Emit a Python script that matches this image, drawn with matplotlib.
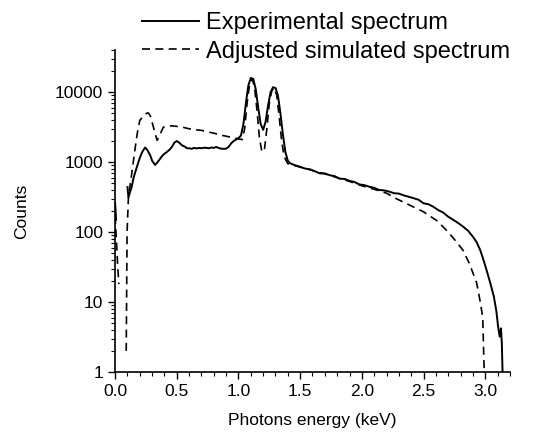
import numpy as np
import matplotlib
matplotlib.use("Agg")
import matplotlib.pyplot as plt
from matplotlib.ticker import LogLocator, FixedLocator, MultipleLocator, NullFormatter

nan = np.nan

# Experimental spectrum (solid)
exp_energy = [0.000, 0.008, nan,
              0.100, 0.108, 0.12, 0.135, 0.15, 0.176, 0.20, 0.22, 0.243, 0.26, 0.284, 0.30,
              0.324, 0.34, 0.365, 0.38, 0.40, 0.42, 0.44, 0.46, 0.48, 0.50, 0.52, 0.54,
              0.57, 0.58, 0.60, 0.62, 0.64, 0.66, 0.68, 0.70, 0.72, 0.74, 0.76, 0.78,
              0.80, 0.82, 0.84, 0.86, 0.88, 0.90, 0.92, 0.94, 0.96, 0.98, 1.00, 1.02,
              1.04, 1.06, 1.08, 1.10, 1.12, 1.14, 1.16, 1.18, 1.20, 1.22, 1.24, 1.26,
              1.28, 1.30, 1.32, 1.34, 1.36, 1.38, 1.40, 1.42, 1.44, 1.46, 1.48, 1.50,
              1.54, 1.58, 1.62, 1.66, 1.70, 1.74, 1.78, 1.82, 1.86, 1.90, 1.94, 1.98,
              2.02, 2.06, 2.10, 2.14, 2.18, 2.22, 2.26, 2.30, 2.34, 2.38, 2.42, 2.46,
              2.50, 2.54, 2.58, 2.62, 2.66, 2.70, 2.74, 2.78, 2.82, 2.86, 2.90, 2.93,
              2.96, 2.99, 3.01, 3.04, 3.07, 3.09, 3.105, 3.117, 3.128, 3.135, 3.142]
exp_counts = [260, 150, nan,
              440, 315, 370, 445, 600, 850, 1150, 1400, 1620, 1500, 1260, 1050,
              910, 980, 1120, 1220, 1320, 1400, 1500, 1650, 1900, 2000, 1900, 1750,
              1650, 1580, 1580, 1550, 1600, 1570, 1600, 1580, 1610, 1600, 1580, 1620,
              1600, 1650, 1590, 1560, 1550, 1560, 1650, 1850, 2000, 2100, 2200, 2400,
              3500, 7000, 12500, 16000, 15500, 11000, 6000, 3500, 2900, 3800, 6500, 10000,
              11800, 11500, 9000, 5000, 2500, 1400, 1050, 960, 930, 900, 880, 855,
              810, 790, 740, 690, 690, 650, 630, 580, 575, 540, 520, 480,
              470, 445, 430, 400, 395, 380, 360, 355, 335, 320, 305, 290,
              258, 250, 230, 206, 190, 166, 150, 135, 120, 105, 86, 72,
              55, 38, 29, 19, 12, 7.5, 4.4, 3.2, 4.2, 2.5, 0.8]

# Adjusted simulated spectrum (dashed)
sim_energy = [0.000, 0.010, 0.020, 0.030, nan,
              0.090, 0.097, 0.108, 0.135, 0.16, 0.18, 0.20, 0.23, 0.255, 0.27, 0.285,
              0.31, 0.34, 0.36, 0.39, 0.42, 0.46, 0.50, 0.55, 0.60,
              0.65, 0.70, 0.75, 0.80, 0.85, 0.90, 0.95, 1.00, 1.03, 1.05, 1.07, 1.09,
              1.11, 1.13, 1.15, 1.17, 1.19, 1.21, 1.23, 1.25, 1.27, 1.29, 1.31, 1.33,
              1.35, 1.37, 1.40, 1.45, 1.50, 1.60, 1.70, 1.80, 1.90, 2.00, 2.10, 2.20,
              2.28, 2.39, 2.50, 2.61, 2.70, 2.76, 2.82, 2.87, 2.93, 2.96, 2.98, 2.99,
              2.995]
sim_counts = [170, 80, 35, 18, nan,
              2.0, 100, 315, 690, 1480, 2600, 3950, 4600, 5000, 5050, 4600,
              3200, 2050, 2400, 3150, 3300, 3300, 3250, 3150, 3000,
              2900, 2850, 2700, 2600, 2450, 2350, 2250, 2150, 2100, 3000, 7000, 13000,
              15500, 12000, 5500, 2200, 1400, 1500, 3000, 7000, 10500, 11500, 9000, 4500,
              2000, 1200, 950, 900, 850, 760, 680, 600, 530, 460, 410, 360,
              300, 242, 195, 145, 100, 75, 55, 36, 19, 10, 6, 1.3,
              0.8]

plt.rcParams['font.family'] = ['Liberation Sans', 'DejaVu Sans']

fig = plt.figure(figsize=(5.43, 4.32), dpi=100)
ax = fig.add_axes([0.212, 0.139, 0.727, 0.745])

l1, = ax.plot(exp_energy, exp_counts, color='black', lw=1.4, ls='-',
              label='Experimental spectrum')
l2, = ax.plot(sim_energy, sim_counts, color='black', lw=1.2,
              label='Adjusted simulated spectrum')
l2.set_dashes([4.8, 3.2])

ax.set_yscale('log')
ax.set_xlim(0, 3.2)
ax.set_ylim(1, 4e4)

ax.spines['top'].set_visible(False)
ax.spines['right'].set_visible(False)

ax.xaxis.set_major_locator(FixedLocator([0.0, 0.5, 1.0, 1.5, 2.0, 2.5, 3.0]))
ax.xaxis.set_minor_locator(MultipleLocator(0.1))
ax.set_xticklabels(['0.0', '0.5', '1.0', '1.5', '2.0', '2.5', '3.0'])
ax.yaxis.set_major_locator(FixedLocator([1, 10, 100, 1000, 10000]))
ax.set_yticklabels(['1', '10', '100', '1000', '10000'])
ax.yaxis.set_minor_locator(LogLocator(base=10, subs=np.arange(2, 10), numticks=20))
ax.yaxis.set_minor_formatter(NullFormatter())

ax.tick_params(which='major', direction='out', length=5, width=1.0, labelsize=12.5)
ax.tick_params(which='minor', direction='out', length=3, width=0.8)
for s in ['left', 'bottom']:
    ax.spines[s].set_linewidth(1.2)

ax.set_xlabel('Photons energy (keV)', fontsize=12.5, labelpad=10)
ax.set_ylabel('Counts', fontsize=12.5, labelpad=19)

fig.legend(handles=[l1, l2], loc='upper left', bbox_to_anchor=(0.262, 0.972),
           frameon=False, fontsize=17, handlelength=2.4, handletextpad=0.3,
           labelspacing=0.28, borderpad=0, borderaxespad=0)

fig.savefig('out.png', dpi=100)
